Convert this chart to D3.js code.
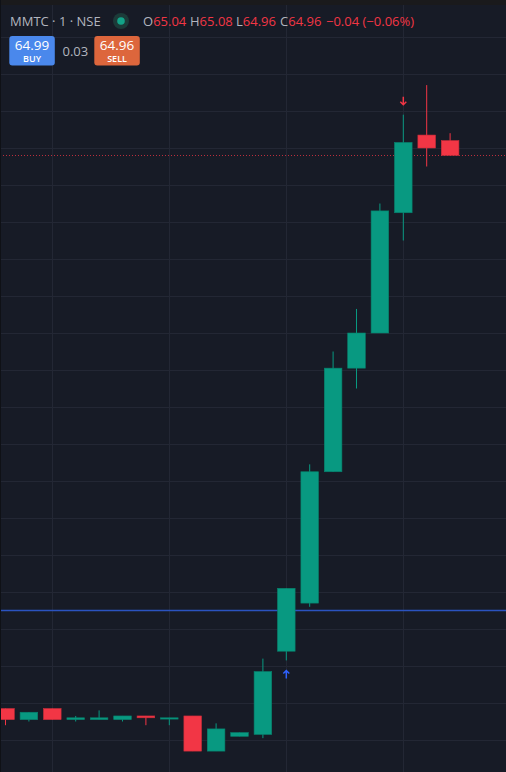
<!DOCTYPE html>
<html>
<head>
<meta charset="utf-8">
<script src="https://cdn.jsdelivr.net/npm/d3@7"></script>
<style>
    body { margin: 0; background: #171b26; overflow: hidden; }
    #chart { width: 506px; height: 772px; }
    text { font-family: "Open Sans", "Noto Sans", sans-serif; }
</style>
</head>
<body>
<div id="chart"></div>
<script>

// candle data (1 min bars, MMTC NSE), oldest first
let opens  = [61.97, 61.91, 61.97, 61.91, 61.91, 61.91, 61.93, 61.92, 61.93, 61.74, 61.82, 61.83, 62.28, 62.54, 63.25, 63.81, 64.00, 64.65, 65.07, 65.04];
let highs  = [61.97, 61.95, 61.97, 61.93, 61.96, 61.93, 61.93, 61.92, 61.93, 61.89, 61.84, 62.24, 62.62, 63.29, 63.90, 64.13, 64.70, 65.18, 65.34, 65.08];
let lows   = [61.88, 61.90, 61.91, 61.90, 61.91, 61.90, 61.88, 61.88, 61.74, 61.74, 61.82, 61.81, 62.23, 62.52, 63.25, 63.70, 64.00, 64.50, 64.90, 64.96];
let closes = [61.91, 61.95, 61.91, 61.92, 61.92, 61.93, 61.92, 61.92, 61.74, 61.86, 61.84, 62.17, 62.62, 63.25, 63.81, 64.00, 64.66, 65.03, 65.00, 64.96];

// time gridlines sit on these bars
let timeTicks = [2, 7, 12, 17];
// price gridlines
let priceTicks = d3.range(61.6, 65.81, 0.2);

// horizontal drawing line and trade marks
let blueLine = 62.5;
let buyMarks = [12];
let sellMarks = [17];

let symbol = "MMTC · 1 · NSE";
let buyPrice = "64.99", sellPrice = "64.96", spread = "0.03";

const green = "#089981", red = "#f23645";

class CandleVis {

    constructor(parentElement){
        this.parentElement = parentElement;
        this.initVis();
    }

    initVis(){
        let vis = this;
        vis.width = 506;
        vis.height = 772;

        vis.svg = d3.select("#" + vis.parentElement).append("svg")
            .attr("width", vis.width)
            .attr("height", vis.height);

        vis.svg.append("rect")
            .attr("width", vis.width).attr("height", vis.height)
            .attr("fill", "#171b26");

        // scales
        vis.x = d3.scaleLinear().domain([0, 19]).range([5.5, 450.1]);
        vis.y = d3.scaleLinear().domain([61.8, 65.6]).range([740, 37]);

        vis.data = opens.map((o, i) => ({i: i, o: o, h: highs[i], l: lows[i], c: closes[i]}));

        vis.updateVis();
    }

    updateVis(){
        let vis = this;

        // grid
        vis.svg.append("g").selectAll("line")
            .data(priceTicks).enter().append("line")
            .attr("x1", 0).attr("x2", vis.width)
            .attr("y1", d => Math.round(vis.y(d)) + 0.5)
            .attr("y2", d => Math.round(vis.y(d)) + 0.5)
            .attr("stroke", "#232734").attr("stroke-width", 1);

        vis.svg.append("g").selectAll("line")
            .data(timeTicks).enter().append("line")
            .attr("x1", d => Math.round(vis.x(d)) + 0.5)
            .attr("x2", d => Math.round(vis.x(d)) + 0.5)
            .attr("y1", 0).attr("y2", vis.height)
            .attr("stroke", "#232734").attr("stroke-width", 1);

        // blue horizontal line
        vis.svg.append("line")
            .attr("x1", 0).attr("x2", vis.width)
            .attr("y1", vis.y(blueLine)).attr("y2", vis.y(blueLine))
            .attr("stroke", "#2b53c0").attr("stroke-width", 1.5);

        // last price line
        let last = closes[closes.length - 1];
        vis.svg.append("line")
            .attr("x1", 0).attr("x2", vis.width)
            .attr("y1", Math.round(vis.y(last)) + 0.5).attr("y2", Math.round(vis.y(last)) + 0.5)
            .attr("stroke", red).attr("stroke-opacity", 0.75)
            .attr("stroke-dasharray", "1,2");

        // candles
        let bw = 17.6;
        let candles = vis.svg.append("g").selectAll("g")
            .data(vis.data).enter().append("g");

        candles.append("line")
            .attr("x1", d => vis.x(d.i)).attr("x2", d => vis.x(d.i))
            .attr("y1", d => vis.y(d.h)).attr("y2", d => vis.y(d.l))
            .attr("stroke", d => d.c >= d.o ? green : red)
            .attr("stroke-width", 1);

        candles.append("rect")
            .attr("x", d => vis.x(d.i) - bw / 2)
            .attr("width", bw)
            .attr("y", d => vis.y(Math.max(d.o, d.c)))
            .attr("height", d => Math.max(1.3, Math.abs(vis.y(d.o) - vis.y(d.c))))
            .attr("fill", d => d.c >= d.o ? green : red)
            .attr("stroke", d => d3.color(d.c >= d.o ? green : red).darker(0.5))
            .attr("stroke-width", 0.6);

        // trade arrows
        vis.svg.append("g").selectAll("path")
            .data(buyMarks).enter().append("path")
            .attr("d", d => {
                let cx = vis.x(d), top = vis.y(lows[d]) + 10;
                return `M${cx},${top} L${cx},${top + 8} M${cx - 3},${top + 3} L${cx},${top} L${cx + 3},${top + 3}`;
            })
            .attr("stroke", "#2f62ff").attr("stroke-width", 1.5).attr("fill", "none");

        vis.svg.append("g").selectAll("path")
            .data(sellMarks).enter().append("path")
            .attr("d", d => {
                let cx = vis.x(d), bot = vis.y(highs[d]) - 10;
                return `M${cx},${bot} L${cx},${bot - 8} M${cx - 3},${bot - 3} L${cx},${bot} L${cx + 3},${bot - 3}`;
            })
            .attr("stroke", red).attr("stroke-width", 1.5).attr("fill", "none");

        // top border strip
        vis.svg.append("rect")
            .attr("width", vis.width).attr("height", 5)
            .attr("fill", "#1a1a1c");
        vis.svg.append("rect")
            .attr("width", 1).attr("height", vis.height)
            .attr("fill", "#0f1116");

        vis.drawLegend();
    }

    drawLegend(){
        let vis = this;
        let lg = vis.svg.append("g");

        lg.append("text")
            .attr("x", 10).attr("y", 26)
            .attr("font-size", 13).attr("fill", "#b2b5be")
            .text(symbol);

        // market status dot
        lg.append("circle").attr("cx", 121).attr("cy", 21).attr("r", 8).attr("fill", "#1c3b39");
        lg.append("circle").attr("cx", 121).attr("cy", 21).attr("r", 3.8).attr("fill", "#13a388");

        // OHLC of the last bar, change against the previous close
        let n = opens.length - 1;
        let chg = closes[n] - closes[n - 1];
        let items = [
            ["O", opens[n].toFixed(2), 143],
            ["H", highs[n].toFixed(2), 190],
            ["L", lows[n].toFixed(2), 236],
            ["C", closes[n].toFixed(2), 280]
        ];
        items.forEach(it => {
            let t = lg.append("text").attr("x", it[2]).attr("y", 26).attr("font-size", 13);
            t.append("tspan").attr("fill", "#b2b5be").text(it[0]);
            t.append("tspan").attr("fill", red).text(it[1]);
        });
        lg.append("text").attr("x", 326).attr("y", 26).attr("font-size", 13).attr("fill", red)
            .text(`−${Math.abs(chg).toFixed(2)} (−${Math.abs(chg / closes[n - 1] * 100).toFixed(2)}%)`);

        // buy / sell buttons
        let btn = (x, col, price, label) => {
            lg.append("rect").attr("x", x).attr("y", 36).attr("width", 45.5).attr("height", 29.5)
                .attr("rx", 3).attr("fill", col);
            lg.append("text").attr("x", x + 22.75).attr("y", 49.5).attr("text-anchor", "middle")
                .attr("font-size", 13.5).attr("fill", "#ffffff").text(price);
            lg.append("text").attr("x", x + 22.75).attr("y", 62).attr("text-anchor", "middle")
                .attr("font-size", 9).attr("font-weight", 600).attr("fill", "#ffffff").text(label);
        };
        btn(9.3, "#4a88ec", buyPrice, "BUY");
        btn(94.3, "#dd663c", sellPrice, "SELL");

        lg.append("text").attr("x", 62.5).attr("y", 56).attr("font-size", 13)
            .attr("fill", "#b2b5be").text(spread);
    }
}

new CandleVis("chart");
</script>
</body>
</html>
